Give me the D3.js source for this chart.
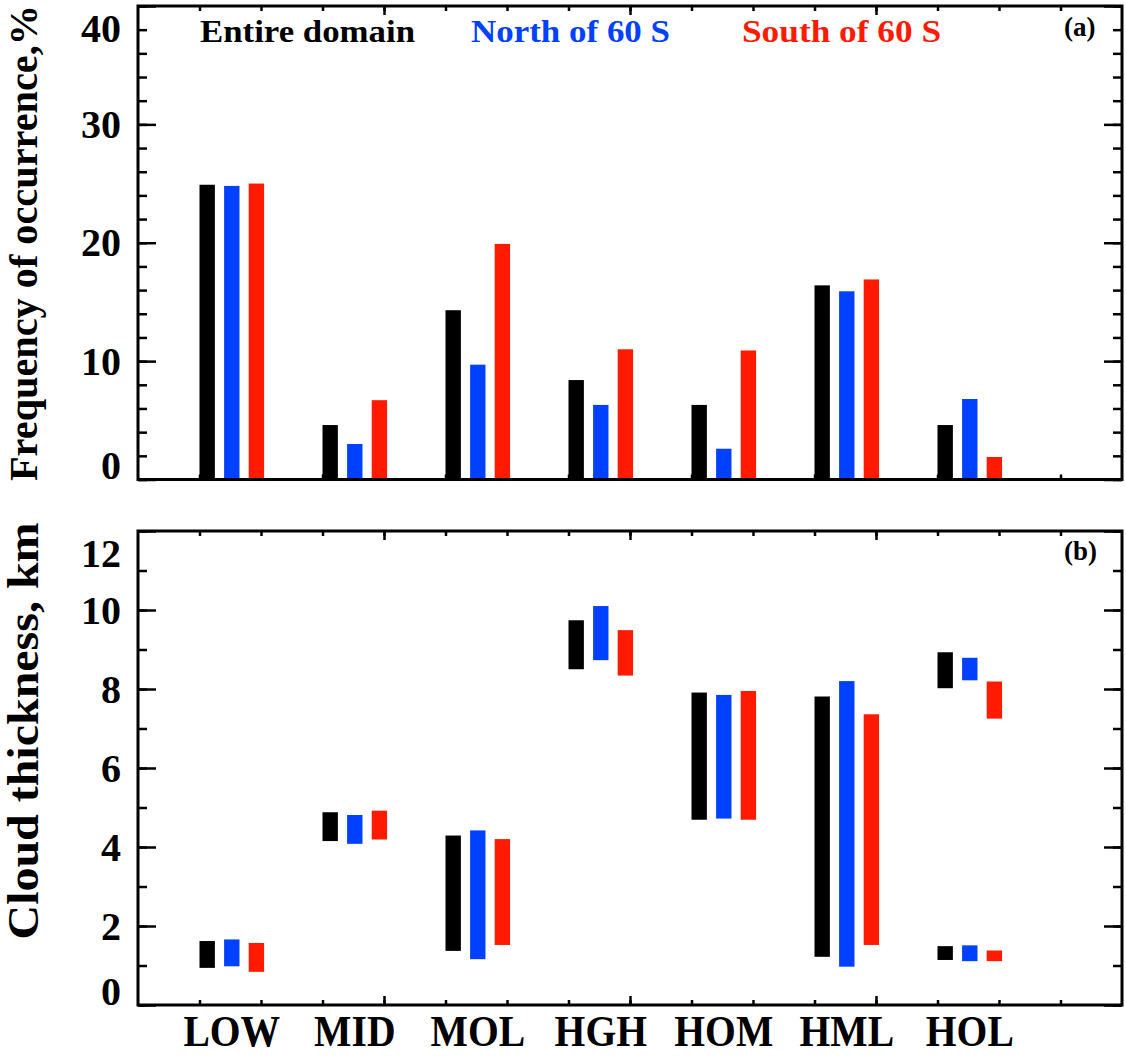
<!DOCTYPE html>
<html>
<head>
<meta charset="utf-8">
<script src="https://cdn.jsdelivr.net/npm/d3@7"></script>
<style>
  body { margin: 0; background: #fff; }
  text { font-family: "Liberation Serif", "Times New Roman", serif; font-weight: bold; }
</style>
</head>
<body>
<div id="chart"></div>
<script>
const categories = ["LOW", "MID", "MOL", "HGH", "HOM", "HML", "HOL"];
const seriesNames = ["Entire domain", "North of 60 S", "South of 60 S"];
const seriesColors = ["#000000", "#0041ff", "#ff1a00"];

// panel (a): frequency of occurrence, %
const freqEntire = [24.9, 4.6, 14.3, 8.4, 6.3, 16.4, 4.6];
const freqNorth = [24.8, 3.0, 9.7, 6.3, 2.6, 15.9, 6.8];
const freqSouth = [25.0, 6.7, 19.9, 11.0, 10.9, 16.9, 1.9];

// panel (b): cloud thickness, [bottom, top] in km (HOL has two layers)
const thickEntire = [[[0.94, 1.62]], [[4.15, 4.88]], [[1.37, 4.29]], [[8.50, 9.74]], [[4.69, 7.91]], [[1.22, 7.81]], [[8.02, 8.93], [1.14, 1.49]]];
const thickNorth = [[[0.98, 1.66]], [[4.08, 4.81]], [[1.16, 4.42]], [[8.73, 10.10]], [[4.72, 7.85]], [[0.97, 8.20]], [[8.22, 8.79], [1.11, 1.51]]];
const thickSouth = [[[0.84, 1.57]], [[4.19, 4.92]], [[1.52, 4.20]], [[8.34, 9.49]], [[4.69, 7.95]], [[1.52, 7.36]], [[7.25, 8.19], [1.11, 1.38]]];

const freqTicks = [0, 10, 20, 30, 40];
const thickTicks = [0, 2, 4, 6, 8, 10, 12];

function main() {
    const width = 1126;
    const height = 1057;
    const left = 138, right = 1122;

    const svg = d3.select("#chart")
        .append("svg")
        .attr("width", width)
        .attr("height", height)

    const x = d3.scaleLinear().domain([0, 16]).range([left, right])
    const barW = x(0.25) - x(0)
    const offsets = [0, 0.4, 0.8]

    const freqSeries = [freqEntire, freqNorth, freqSouth]
    const thickSeries = [thickEntire, thickNorth, thickSouth]

    // draws frame with inward ticks on all four sides
    function frame(y, top, bottom, minorStep, majorTicks) {
        const g = svg.append("g")
        const [y0, y1] = y.domain()
        const minors = d3.range(y0, y1 + 0.001, minorStep)

        const xMinor = d3.range(1, 16)
        const xMajor = [4, 8, 12]
        const xAxes = [
            [d3.axisBottom(x).tickValues(xMinor).tickSize(-5), bottom],
            [d3.axisBottom(x).tickValues(xMajor).tickSize(-9), bottom],
            [d3.axisTop(x).tickValues(xMinor).tickSize(-5), top],
            [d3.axisTop(x).tickValues(xMajor).tickSize(-9), top]
        ]
        xAxes.forEach(([ax, ty]) => {
            g.append("g").attr("transform", `translate(0,${ty})`)
                .call(ax.tickFormat(""))
                .call(s => s.select(".domain").remove())
        })

        const yAxes = [
            [d3.axisLeft(y).tickValues(minors).tickSize(-9), left],
            [d3.axisLeft(y).tickValues(majorTicks).tickSize(-18), left],
            [d3.axisRight(y).tickValues(minors).tickSize(-9), right],
            [d3.axisRight(y).tickValues(majorTicks).tickSize(-18), right]
        ]
        yAxes.forEach(([ax, tx]) => {
            g.append("g").attr("transform", `translate(${tx},0)`)
                .call(ax.tickFormat(""))
                .call(s => s.select(".domain").remove())
        })
        g.selectAll(".tick line").attr("stroke", "#000").attr("stroke-width", 2.5)

        // tick labels, end labels pushed inside the frame
        svg.append("g").selectAll("text")
            .data(majorTicks)
            .join("text")
            .attr("x", 121)
            .attr("y", d => Math.min(Math.max(y(d), top + 22), bottom - 14))
            .attr("dy", "0.34em")
            .attr("text-anchor", "end")
            .attr("font-size", 40)
            .text(d => d)
    }

    function border(top, bottom) {
        svg.append("rect")
            .attr("x", left).attr("y", top)
            .attr("width", right - left).attr("height", bottom - top)
            .attr("fill", "none")
            .attr("stroke", "#000")
            .attr("stroke-width", 3)
    }

    // ---- panel (a)
    const topA = 6, botA = 479.5
    const yA = d3.scaleLinear().domain([0, 40]).range([botA, topA])
    frame(yA, topA, botA, 2, freqTicks)

    freqSeries.forEach((vals, s) => {
        svg.append("g").selectAll("rect")
            .data(vals)
            .join("rect")
            .attr("x", (d, i) => x(i * 2 + 1 + offsets[s]))
            .attr("width", barW)
            .attr("y", d => yA(d))
            .attr("height", d => yA(0) - yA(d))
            .attr("fill", seriesColors[s])
    })
    border(topA, botA)

    const legendX = [200, 471, 742]
    const legendW = [215, 199, 199]
    svg.append("g").selectAll("text")
        .data(seriesNames)
        .join("text")
        .attr("x", (d, i) => legendX[i])
        .attr("y", 42)
        .attr("font-size", 31)
        .attr("textLength", (d, i) => legendW[i])
        .attr("lengthAdjust", "spacingAndGlyphs")
        .attr("fill", (d, i) => seriesColors[i])
        .text(d => d)

    svg.append("text").attr("x", 1064).attr("y", 36)
        .attr("font-size", 27).text("(a)")

    svg.append("text")
        .attr("transform", "translate(37,243) rotate(-90)")
        .attr("text-anchor", "middle")
        .attr("font-size", 40)
        .attr("textLength", 476)
        .attr("lengthAdjust", "spacingAndGlyphs")
        .text("Frequency of occurrence,%")

    // ---- panel (b)
    const topB = 531, botB = 1005
    const yB = d3.scaleLinear().domain([0, 12]).range([botB, topB])
    frame(yB, topB, botB, 1, thickTicks)

    thickSeries.forEach((cats, s) => {
        const segs = []
        cats.forEach((ranges, i) => ranges.forEach(r => segs.push({ i: i, lo: r[0], hi: r[1] })))
        svg.append("g").selectAll("rect")
            .data(segs)
            .join("rect")
            .attr("x", d => x(d.i * 2 + 1 + offsets[s]))
            .attr("width", barW)
            .attr("y", d => yB(d.hi))
            .attr("height", d => yB(d.lo) - yB(d.hi))
            .attr("fill", seriesColors[s])
    })
    border(topB, botB)

    svg.append("text").attr("x", 1064).attr("y", 560)
        .attr("font-size", 27).text("(b)")

    svg.append("text")
        .attr("transform", "translate(38,731) rotate(-90)")
        .attr("text-anchor", "middle")
        .attr("font-size", 44)
        .attr("textLength", 417)
        .attr("lengthAdjust", "spacingAndGlyphs")
        .text("Cloud thickness, km")

    // category labels under the bottom panel
    svg.append("g").selectAll("text")
        .data(categories)
        .join("text")
        .attr("transform", (d, i) => `translate(${x(i * 2 + 1.525)},1046) scale(0.9,1)`)
        .attr("text-anchor", "middle")
        .attr("font-size", 44)
        .text(d => d)
}
main();
</script>
</body>
</html>
